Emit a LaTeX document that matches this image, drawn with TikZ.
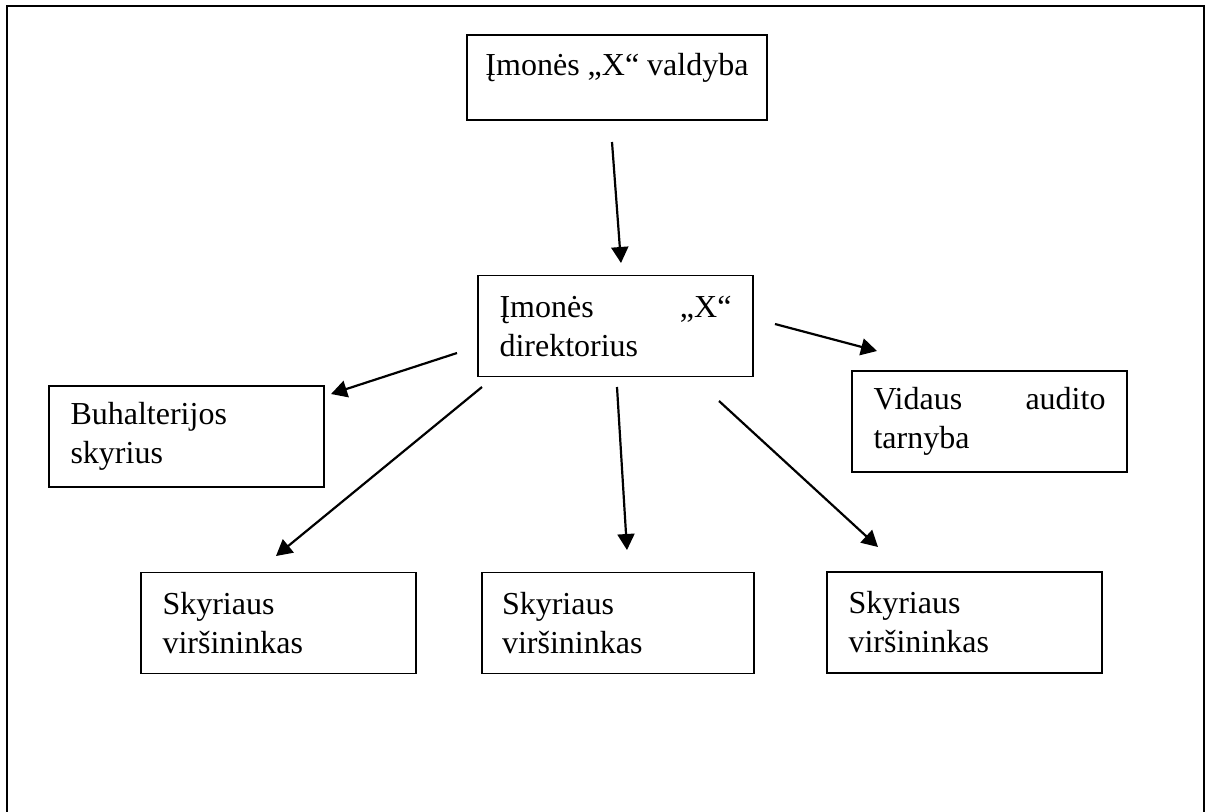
\documentclass[tikz,border=0pt]{standalone}
\usepackage{fontspec}
\setmainfont{Liberation Serif}
\usepackage{tikz}
\usetikzlibrary{arrows.meta}
\tikzset{
    box/.style={rectangle, draw=black, line width=0.7pt, font=\fontsize{16}{19.5}\selectfont, inner sep=0pt},
    unitbox/.style={box, minimum width=137.5pt, minimum height=50.5pt, text width=116pt, align=left},
    arr/.style={-{Triangle[length=8pt, width=8.5pt]}, line width=1.1pt, black},
    frame/.style={line width=1.1pt, black}
}

\begin{document}
\begin{tikzpicture}[x=0.5pt, y=-0.5pt]
        \useasboundingbox (0,0) rectangle (1206,811);
        \draw[frame] (7,820) -- (7,6) -- (1204,6) -- (1204,820);

        \node[box, minimum width=150pt, minimum height=42.5pt, text height=11pt, text depth=13.5pt] (valdyba) at (617,77.5) {Įmonės „X“ valdyba};
        \node[unitbox] (direktorius) at (615.5,326) {Įmonės\hfill „X“\\direktorius};
        \node[unitbox] (buhalterija) at (186.5,436.5) {Buhalterijos\\skyrius};
        \node[unitbox] (auditas) at (989.5,421.5) {Vidaus\hfill audito\\tarnyba};
        \node[unitbox] (skyrius1) at (278.5,623) {Skyriaus\\viršininkas};
        \node[unitbox, minimum width=136pt] (skyrius2) at (618,623) {Skyriaus\\viršininkas};
        \node[unitbox] (skyrius3) at (964.5,622.5) {Skyriaus\\viršininkas};

        % arrow ends (the arrows stand free of the boxes)
        \coordinate (valdyba-out) at (612,142);
        \coordinate (direktorius-in) at (621,263);
        \coordinate (audit-out) at (775,324);
        \coordinate (audit-in) at (877,351);
        \coordinate (buh-out) at (457,353);
        \coordinate (buh-in) at (331,394);
        \coordinate (sk1-out) at (482,387);
        \coordinate (sk1-in) at (276,556);
        \coordinate (sk2-out) at (617,387);
        \coordinate (sk2-in) at (627,550);
        \coordinate (sk3-out) at (719,401);
        \coordinate (sk3-in) at (878,547);

        \draw[arr] (valdyba-out)--(direktorius-in);
        \draw[arr] (audit-out)--(audit-in);
        \draw[arr] (buh-out)--(buh-in);
        \draw[arr] (sk1-out)--(sk1-in);
        \draw[arr] (sk2-out)--(sk2-in);
        \draw[arr] (sk3-out)--(sk3-in);
    \end{tikzpicture}
\end{document}
